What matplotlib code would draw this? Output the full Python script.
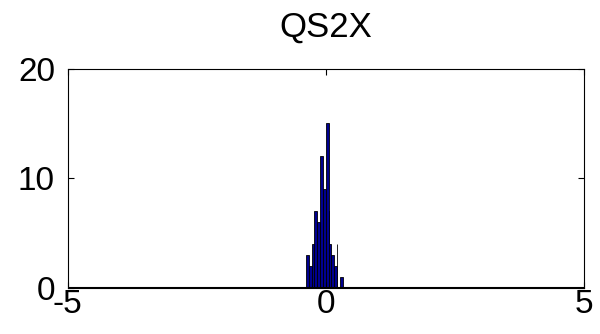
import numpy as np
import matplotlib.pyplot as plt

plt.rcParams['font.family'] = ['Liberation Sans', 'DejaVu Sans']
plt.rcParams['axes.unicode_minus'] = False

# histogram bin centres and counts
bin_centers = [-0.350, -0.296, -0.241, -0.187, -0.132, -0.078, -0.023,
               0.031, 0.086, 0.140, 0.195, 0.249, 0.304]
counts = [3, 2, 4, 7, 6, 12, 9, 15, 4, 3, 2, 0, 1]
bin_width = 0.0545

# partly hidden bars peeking out beside their neighbours
edge_x = [0.060, 0.226]
edge_counts = [7, 4]

fig = plt.figure(figsize=(6.0, 3.34), dpi=100)
ax = fig.add_axes([0.1125, 0.139, 0.86, 0.655])

ax.bar(edge_x, edge_counts, width=0.008, color='#00008f',
       edgecolor='black', linewidth=0.6)
ax.bar(bin_centers, counts, width=bin_width, color='#00008f',
       edgecolor='black', linewidth=0.6)
ax.axhline(0, color='black', linewidth=1.5)

ax.set_xlim(-5, 5)
ax.set_ylim(0, 20)
ax.set_xticks([-5, 0, 5])
ax.set_yticks([0, 10, 20])
ax.tick_params(direction='in', length=4, width=0.8, labelsize=24,
               top=True, right=True)
ax.tick_params(axis='y', pad=9)
ax.tick_params(axis='x', pad=1)
for s in ax.spines.values():
    s.set_linewidth(0.8)

ax.set_title('QS2X', fontsize=25, pad=23)

fig.savefig('out.png', dpi=100)
